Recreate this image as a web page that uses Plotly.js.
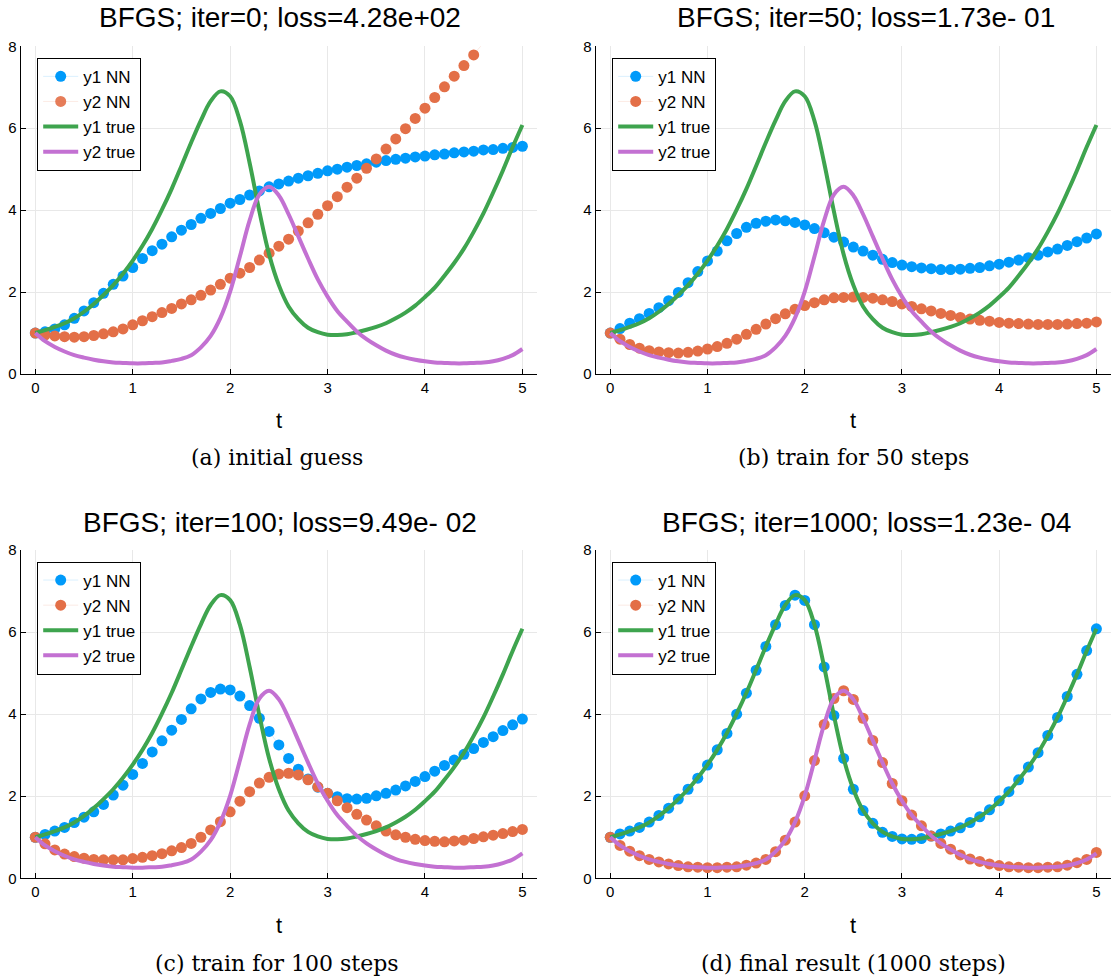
<!DOCTYPE html>
<html>
<head>
<meta charset="utf-8">
<script src="https://cdn.plot.ly/plotly-3.0.1.min.js"></script>
<style>
  html, body { margin: 0; padding: 0; background: #fff; }
  #chart { width: 1115px; height: 977px; }
</style>
</head>
<body>
<div id="chart"></div>
<script>
// ---------------- data ----------------
const t = [0.0,0.1,0.2,0.3,0.4,0.5,0.6,0.7,0.8,0.9,
           1.0,1.1,1.2,1.3,1.4,1.5,1.6,1.7,1.8,1.9,
           2.0,2.1,2.2,2.3,2.4,2.5,2.6,2.7,2.8,2.9,
           3.0,3.1,3.2,3.3,3.4,3.5,3.6,3.7,3.8,3.9,
           4.0,4.1,4.2,4.3,4.4,4.5,4.6,4.7,4.8,4.9,
           5.0];

// true solution
const y1True = [1.0,1.07,1.15,1.24,1.36,1.52,1.71,1.93,2.17,2.45,
                2.77,3.13,3.54,4.01,4.52,5.08,5.65,6.19,6.66,6.9,
                6.78,6.18,5.15,3.97,2.92,2.17,1.65,1.34,1.13,1.02,
                0.96,0.95,0.97,1.02,1.08,1.15,1.24,1.36,1.5,1.67,
                1.88,2.11,2.4,2.71,3.06,3.47,3.92,4.43,4.97,5.54,
                6.08];
const y2True = [1.0,0.8,0.66,0.55,0.46,0.4,0.35,0.31,0.28,0.27,
                0.26,0.26,0.27,0.28,0.32,0.37,0.46,0.65,0.93,1.37,
                2.01,2.87,3.75,4.38,4.57,4.36,3.9,3.36,2.82,2.31,
                1.89,1.54,1.28,1.04,0.85,0.7,0.57,0.47,0.4,0.35,
                0.31,0.28,0.27,0.26,0.26,0.27,0.28,0.31,0.37,0.46,
                0.61];

// (a) iter=0
const aY1 = [1.0,1.03,1.1,1.2,1.36,1.54,1.74,1.97,2.19,2.39,
             2.6,2.82,3.01,3.17,3.35,3.51,3.65,3.8,3.92,4.04,
             4.17,4.26,4.37,4.47,4.57,4.64,4.71,4.78,4.84,4.9,
             4.96,5.0,5.05,5.09,5.13,5.17,5.21,5.24,5.27,5.3,
             5.32,5.35,5.37,5.4,5.42,5.44,5.47,5.48,5.51,5.53,
             5.56];
const aY2 = [1.0,0.95,0.93,0.91,0.9,0.91,0.94,0.98,1.03,1.1,
             1.2,1.3,1.4,1.5,1.6,1.71,1.81,1.92,2.05,2.19,
             2.34,2.46,2.6,2.78,2.95,3.12,3.29,3.49,3.69,3.9,
             4.11,4.33,4.56,4.78,5.02,5.25,5.49,5.74,5.99,6.24,
             6.49,6.75,7.01,7.27,7.53,7.79,8.06,8.33,8.6,8.88,
             9.16];

// (b) iter=50
const bY1 = [1.0,1.11,1.24,1.35,1.48,1.62,1.79,1.99,2.23,2.5,
             2.76,3.0,3.25,3.43,3.58,3.68,3.73,3.76,3.74,3.7,
             3.64,3.55,3.45,3.34,3.22,3.1,3.0,2.9,2.8,2.72,
             2.66,2.62,2.59,2.57,2.55,2.55,2.56,2.58,2.6,2.64,
             2.68,2.73,2.78,2.84,2.9,2.98,3.05,3.14,3.23,3.32,
             3.42];
const bY2 = [1.0,0.85,0.72,0.63,0.57,0.54,0.52,0.51,0.53,0.56,
             0.61,0.67,0.75,0.85,0.97,1.09,1.22,1.35,1.47,1.58,
             1.67,1.74,1.81,1.86,1.87,1.88,1.87,1.85,1.81,1.77,
             1.71,1.65,1.59,1.54,1.48,1.43,1.38,1.34,1.31,1.29,
             1.26,1.24,1.23,1.22,1.21,1.21,1.21,1.22,1.23,1.24,
             1.27];

// (c) iter=100
const cY1 = [1.0,1.07,1.15,1.24,1.36,1.49,1.62,1.8,2.03,2.27,
             2.53,2.8,3.08,3.35,3.61,3.87,4.13,4.37,4.53,4.61,
             4.59,4.44,4.21,3.9,3.58,3.25,2.92,2.66,2.42,2.22,
             2.07,1.99,1.94,1.93,1.95,2.01,2.07,2.15,2.25,2.36,
             2.48,2.61,2.75,2.88,3.02,3.16,3.31,3.45,3.6,3.74,
             3.88];
const cY2 = [1.0,0.84,0.69,0.59,0.53,0.49,0.46,0.45,0.45,0.45,
             0.48,0.51,0.55,0.6,0.67,0.75,0.85,1.0,1.18,1.38,
             1.62,1.88,2.11,2.32,2.46,2.54,2.56,2.52,2.4,2.23,
             2.07,1.89,1.72,1.56,1.42,1.28,1.15,1.06,1.0,0.95,
             0.92,0.9,0.89,0.91,0.93,0.97,1.01,1.05,1.09,1.14,
             1.19];

// (d) iter=1000
const dY1 = [1.0,1.08,1.15,1.24,1.37,1.53,1.71,1.93,2.17,2.44,
             2.76,3.13,3.53,4.0,4.51,5.07,5.65,6.18,6.65,6.9,
             6.77,6.18,5.15,3.97,2.92,2.17,1.65,1.34,1.12,1.02,
             0.96,0.95,0.97,1.03,1.08,1.15,1.23,1.36,1.5,1.67,
             1.89,2.11,2.4,2.71,3.06,3.48,3.92,4.43,4.97,5.55,
             6.08];
const dY2 = [1.0,0.8,0.66,0.55,0.46,0.4,0.35,0.31,0.28,0.27,
             0.26,0.26,0.27,0.28,0.32,0.37,0.46,0.65,0.93,1.37,
             2.01,2.87,3.75,4.38,4.57,4.36,3.9,3.36,2.82,2.31,
             1.89,1.54,1.28,1.03,0.85,0.71,0.57,0.47,0.41,0.35,
             0.31,0.28,0.27,0.26,0.26,0.27,0.28,0.32,0.38,0.46,
             0.63];

const titles = ["BFGS; iter=0; loss=4.28e+02",
                "BFGS; iter=50; loss=1.73e- 01",
                "BFGS; iter=100; loss=9.49e- 02",
                "BFGS; iter=1000; loss=1.23e- 04"];
const captions = ["(a) initial guess",
                  "(b) train for 50 steps",
                  "(c) train for 100 steps",
                  "(d) final result (1000 steps)"];
const seriesNames = ["y1 NN", "y2 NN", "y1 true", "y2 true"];
const xTickVals = [0, 1, 2, 3, 4, 5];
const yTickVals = [0, 2, 4, 6, 8];

// ---------------- styling ----------------
const C_BLUE = "#009AFA", C_ORANGE = "#E36F47", C_GREEN = "#3EA44E", C_PURPLE = "#C371D2";
const W = 1115, H = 977;
const YMAX = 8;
const SANS = "Liberation Sans, Arial, sans-serif";

const nnSets = [[aY1, aY2], [bY1, bY2], [cY1, cY2], [dY1, dY2]];

// panel geometry in pixels: [left, right, top, bottom] of plot area
const panels = [
  {l: 20.7, r: 537, t: 46.3, b: 374, titleX: 280, titleY: 17, capX: 277, capY: 458, tY: 420},
  {l: 595.7, r: 1111, t: 46.3, b: 374, titleX: 866, titleY: 17, capX: 853, capY: 458, tY: 420},
  {l: 20.7, r: 537, t: 550, b: 878.3, titleX: 280, titleY: 522, capX: 277, capY: 963, tY: 925},
  {l: 595.7, r: 1111, t: 550, b: 878.3, titleX: 866, titleY: 522, capX: 853, capY: 963, tY: 925}
];

const traces = [];
const layout = {
  width: W, height: H,
  margin: {l: 0, r: 0, t: 0, b: 0},
  paper_bgcolor: "#fff", plot_bgcolor: "#fff",
  showlegend: true,
  annotations: [],
  font: {family: SANS, color: "#000"}
};

panels.forEach((p, i) => {
  const k = i === 0 ? "" : String(i + 1);
  const xa = "x" + k, ya = "y" + k;
  const lg = "legend" + k;
  const [n1, n2] = nnSets[i];
  const markerOpacity = arr => arr.map(v => (v > YMAX ? 0 : 1));

  traces.push({
    x: t, y: n1, xaxis: xa, yaxis: ya, legend: lg, name: seriesNames[0],
    type: "scatter", mode: "lines+markers",
    line: {color: "rgba(0,154,250,0.15)", width: 1},
    marker: {color: C_BLUE, size: 11, line: {width: 0}, opacity: markerOpacity(n1)}
  });
  traces.push({
    x: t, y: n2, xaxis: xa, yaxis: ya, legend: lg, name: seriesNames[1],
    type: "scatter", mode: "lines+markers",
    line: {color: "rgba(227,111,71,0.15)", width: 1},
    marker: {color: C_ORANGE, size: 11, line: {width: 0}, opacity: markerOpacity(n2)}
  });
  traces.push({
    x: t, y: y1True, xaxis: xa, yaxis: ya, legend: lg, name: seriesNames[2],
    type: "scatter", mode: "lines",
    line: {color: C_GREEN, width: 4, shape: "spline", smoothing: 1}
  });
  traces.push({
    x: t, y: y2True, xaxis: xa, yaxis: ya, legend: lg, name: seriesNames[3],
    type: "scatter", mode: "lines",
    line: {color: C_PURPLE, width: 4, shape: "spline", smoothing: 1}
  });

  const axCommon = {
    showline: true, linecolor: "#000", linewidth: 1,
    ticks: "inside", ticklen: 5, tickcolor: "#000", tickwidth: 1,
    showgrid: true, gridcolor: "#e8e8e8", gridwidth: 1,
    zeroline: false, tickfont: {size: 15, color: "#000", family: SANS},
    fixedrange: true
  };
  layout["xaxis" + k] = Object.assign({}, axCommon, {
    domain: [p.l / W, p.r / W],
    anchor: ya,
    range: [-0.15, 5.15],
    tickmode: "array", tickvals: xTickVals, ticktext: xTickVals.map(String)
  });
  layout["yaxis" + k] = Object.assign({}, axCommon, {
    domain: [1 - p.b / H, 1 - p.t / H],
    anchor: xa,
    range: [0, YMAX],
    tickmode: "array", tickvals: yTickVals, ticktext: yTickVals.map(String)
  });

  layout[lg] = {
    x: (p.l + 16.5) / W, y: 1 - (p.t + 11.5) / H,
    xanchor: "left", yanchor: "top",
    xref: "paper", yref: "paper",
    bgcolor: "#fff", bordercolor: "#000", borderwidth: 1,
    font: {size: 17, color: "#000", family: SANS},
    tracegroupgap: 0, itemwidth: 35
  };

  layout.annotations.push({
    text: titles[i], x: p.titleX / W, y: 1 - p.titleY / H, xref: "paper", yref: "paper",
    xanchor: "center", yanchor: "middle", showarrow: false,
    font: {size: 28, color: "#000", family: SANS}
  });
  layout.annotations.push({
    text: "t", x: ((p.l + p.r) / 2) / W, y: 1 - p.tY / H, xref: "paper", yref: "paper",
    xanchor: "center", yanchor: "middle", showarrow: false,
    font: {size: 22, color: "#000", family: SANS}
  });
  layout.annotations.push({
    text: captions[i], x: p.capX / W, y: 1 - p.capY / H, xref: "paper", yref: "paper",
    xanchor: "center", yanchor: "middle", showarrow: false,
    font: {size: 22, color: "#000", family: "DejaVu Serif, Liberation Serif, serif"}
  });
});

Plotly.newPlot("chart", traces, layout, {staticPlot: true, displayModeBar: false});
</script>
</body>
</html>
